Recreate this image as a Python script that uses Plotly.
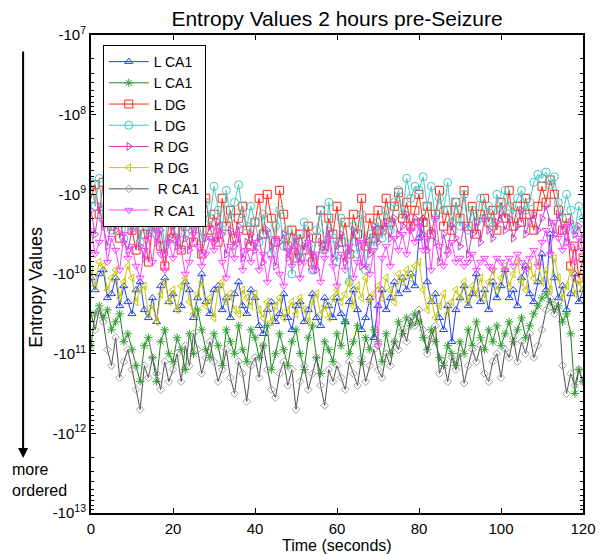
import math
import plotly.graph_objects as go

# time axis (seconds)
time_s = list(range(0, 121))

# log10 of |entropy value| for each series (entropy value = -10**exponent)
l_ca1_blue = [10.05, 10.20, 10.00, 9.95, 10.30, 10.25, 10.05, 10.40, 10.15, 10.35,
              10.50, 10.20, 10.10, 10.45, 10.55, 10.30, 10.60, 10.15, 10.05, 10.35,
              10.25, 10.45, 10.40, 10.10, 10.20, 10.55, 10.30, 10.00, 10.35, 10.50,
              10.20, 10.15, 10.45, 10.30, 10.55, 10.25, 10.10, 10.40, 10.50, 10.20,
              10.30, 10.65, 10.75, 10.45, 10.35, 10.60, 10.50, 10.25, 10.55, 10.70,
              10.40, 10.35, 10.60, 10.45, 10.25, 10.55, 10.65, 10.30, 10.40, 10.55,
              10.30, 10.50, 10.60, 10.35, 10.20, 10.45, 10.70, 10.55, 10.30, 10.80,
              10.40, 10.20, 10.45, 10.30, 10.10, 10.25, 10.05, 10.20, 10.00, 10.15,
              9.55, 9.30, 10.10, 10.35, 10.25, 10.55, 10.70, 10.40, 10.85, 10.45,
              10.30, 10.15, 10.40, 10.25, 10.00, 10.35, 10.20, 10.45, 10.10, 10.30,
              10.15, 9.95, 10.30, 10.20, 10.40, 10.05, 9.90, 10.25, 10.35, 10.10,
              9.75, 10.20, 9.50, 10.05, 10.30, 10.15, 10.45, 10.25, 10.00, 10.35,
              10.20]
l_ca1_green = [10.90, 10.50, 10.40, 10.55, 10.45, 10.70, 10.60, 10.50, 10.85, 10.75,
               10.95, 11.15, 11.35, 10.90, 10.80, 11.05, 11.35, 10.85, 10.70, 11.00,
               11.10, 10.80, 10.95, 11.20, 10.75, 11.00, 10.45, 10.70, 10.95, 11.05,
               10.75, 10.90, 11.15, 10.70, 10.85, 11.00, 10.65, 10.95, 11.10, 10.70,
               10.80, 11.05, 10.90, 10.65, 11.20, 11.00, 10.75, 10.95, 11.15, 10.85,
               10.70, 11.00, 11.20, 10.80, 10.65, 11.05, 11.25, 10.85, 10.95, 11.10,
               10.75, 10.90, 10.60, 11.00, 10.85, 10.65, 11.10, 10.80, 10.95, 10.70,
               10.85, 11.10, 10.75, 11.00, 10.85, 10.60, 10.75, 10.55, 10.65, 10.50,
               10.60, 10.80, 10.95, 10.70, 10.85, 11.05, 11.15, 10.90, 11.00, 11.15,
               10.85, 11.00, 10.70, 10.90, 10.60, 10.80, 10.95, 10.70, 10.85, 10.65,
               10.90, 10.75, 10.60, 10.85, 10.70, 10.55, 10.80, 10.65, 10.50, 10.40,
               10.30, 10.25, 10.35, 10.45, 10.40, 10.60, 10.50, 10.75, 11.50, 11.20,
               11.35]
l_dg_red = [9.05, 8.88, 9.25, 8.85, 9.15, 9.40, 9.05, 9.55, 9.30, 9.10,
            9.45, 9.70, 9.25, 9.50, 9.85, 9.40, 9.20, 9.65, 9.90, 9.35,
            9.55, 9.25, 9.70, 9.40, 9.15, 9.60, 9.35, 9.75, 9.05, 9.45,
            9.25, 9.60, 9.05, 9.40, 9.20, 9.55, 9.30, 9.15, 9.45, 9.65,
            9.35, 9.05, 9.50, 9.00, 9.30, 9.60, 8.95, 9.25, 9.65, 9.45,
            9.80, 9.50, 9.70, 9.40, 9.85, 9.55, 9.20, 9.65, 9.30, 9.50,
            9.15, 9.60, 9.35, 9.75, 9.25, 9.50, 9.05, 9.65, 9.30, 9.55,
            9.20, 9.45, 9.05, 9.35, 9.15, 8.98, 9.30, 9.10, 9.40, 9.20,
            9.00, 9.35, 9.15, 9.50, 9.25, 8.95, 9.40, 9.20, 9.45, 9.10,
            9.30, 8.95, 9.40, 9.15, 9.50, 9.25, 9.05, 9.35, 9.20, 9.45,
            9.10, 9.30, 8.95, 9.40, 9.15, 9.35, 9.05, 9.25, 9.45, 9.15,
            8.90, 9.10, 8.82, 9.00, 9.20, 9.45, 9.30, 9.90, 9.65, 10.05,
            9.80]
l_dg_cyan = [8.85, 9.15, 8.80, 9.30, 9.00, 9.45, 9.10, 9.35, 9.55, 9.20,
             9.40, 9.10, 9.60, 9.25, 9.45, 9.05, 9.50, 9.30, 9.65, 9.15,
             9.35, 9.60, 9.20, 9.50, 9.05, 9.40, 9.25, 9.55, 9.10, 9.30,
             8.90, 9.20, 9.45, 8.95, 9.30, 9.10, 8.88, 9.25, 9.40, 9.15,
             9.35, 9.60, 9.25, 9.50, 9.75, 9.40, 9.20, 9.65, 9.45, 10.00,
             9.55, 9.80, 9.35, 9.65, 9.95, 9.45, 9.20, 9.70, 9.10, 9.55,
             9.85, 9.30, 9.60, 10.10, 9.40, 9.75, 9.25, 9.95, 9.50, 9.65,
             9.35, 9.55, 9.20, 9.45, 9.10, 8.95, 9.25, 8.80, 9.05, 8.90,
             8.95, 8.78, 9.15, 8.90, 9.30, 9.05, 9.20, 8.85, 9.35, 9.10,
             9.40, 9.00, 9.45, 9.20, 9.35, 9.05, 9.30, 9.15, 9.40, 9.00,
             9.20, 8.95, 9.15, 9.25, 9.05, 8.95, 9.20, 9.10, 8.85, 8.75,
             8.80, 8.72, 8.88, 8.78, 9.10, 9.30, 9.00, 9.20, 9.45, 9.15,
             9.30]
r_dg_purple = [9.20, 9.50, 9.15, 9.40, 9.65, 9.30, 9.45, 9.25, 9.60, 9.70,
               9.45, 9.35, 9.65, 9.80, 9.50, 9.30, 9.60, 9.45, 9.75, 9.55,
               9.40, 9.65, 9.30, 9.55, 9.70, 9.45, 9.35, 9.75, 9.55, 9.40,
               9.60, 9.35, 9.50, 9.75, 9.45, 9.65, 9.40, 9.80, 9.60, 9.50,
               9.70, 9.55, 9.85, 9.45, 9.65, 9.90, 9.60, 9.50, 9.80, 9.70,
               9.55, 9.85, 9.65, 9.50, 9.75, 9.95, 9.60, 9.70, 9.45, 9.80,
               9.65, 9.50, 9.85, 9.70, 9.45, 9.60, 9.90, 9.55, 9.75, 9.40,
               9.60, 9.45, 9.35, 9.55, 9.30, 9.50, 9.40, 9.25, 9.45, 9.30,
               9.35, 9.50, 9.70, 9.45, 9.60, 9.85, 9.50, 9.70, 9.40, 9.55,
               9.65, 9.40, 9.75, 9.50, 9.35, 9.60, 9.30, 9.45, 9.55, 9.35,
               9.25, 9.45, 9.30, 9.55, 9.40, 9.20, 9.50, 9.35, 9.25, 9.45,
               9.30, 9.15, 9.35, 9.50, 9.25, 9.45, 9.60, 9.35, 9.50, 9.40,
               9.55]
r_dg_yellow = [9.95, 10.15, 9.85, 9.90, 10.20, 10.05, 9.95, 10.30, 10.10, 9.90,
               10.05, 10.35, 10.20, 10.15, 10.50, 10.40, 10.60, 10.25, 10.10, 10.35,
               10.20, 10.45, 10.15, 10.05, 10.35, 10.50, 10.25, 10.10, 10.40, 10.30,
               10.55, 10.20, 10.10, 10.35, 10.25, 10.45, 10.50, 10.20, 10.30, 10.40,
               10.25, 10.45, 10.55, 10.35, 10.60, 10.40, 10.30, 10.55, 10.45, 10.35,
               10.50, 10.30, 10.45, 10.60, 10.35, 10.25, 10.50, 10.40, 10.55, 10.30,
               10.20, 10.35, 10.25, 10.10, 10.40, 10.15, 10.30, 10.05, 10.35, 10.25,
               10.15, 10.30, 10.05, 10.20, 10.35, 10.00, 10.10, 9.95, 10.05, 9.90,
               9.85, 10.20, 10.45, 10.30, 10.55, 10.40, 10.25, 10.50, 10.35, 10.20,
               10.30, 10.10, 10.35, 10.15, 10.25, 10.05, 10.30, 10.10, 9.95, 10.20,
               10.05, 9.90, 10.15, 10.00, 9.85, 10.10, 10.20, 9.90, 10.05, 9.85,
               10.10, 9.95, 10.20, 9.80, 10.05, 10.30, 10.15, 9.95, 10.25, 10.10,
               10.20]
r_ca1_gray = [10.50, 10.70, 10.45, 10.60, 10.95, 11.15, 10.80, 11.30, 11.10, 10.95,
              11.20, 11.45, 11.70, 11.15, 11.30, 11.05, 11.25, 11.45, 11.10, 11.35,
              11.20, 11.00, 11.35, 10.90, 11.15, 10.75, 10.95, 11.25, 11.05, 10.85,
              11.10, 11.35, 11.20, 10.95, 11.30, 11.50, 11.10, 11.25, 11.60, 11.15,
              11.05, 11.30, 10.90, 11.20, 11.45, 11.55, 11.25, 11.10, 11.40, 11.20,
              11.70, 11.35, 11.15, 11.45, 11.25, 11.05, 11.40, 11.65, 11.20, 11.35,
              11.15, 11.30, 11.45, 11.10, 11.25, 11.40, 11.05, 11.35, 11.15, 10.95,
              11.20, 11.30, 11.00, 11.15, 10.85, 10.95, 10.70, 10.85, 10.55, 10.65,
              10.45, 10.70, 11.00, 10.80, 10.65, 11.25, 11.10, 11.35, 11.05, 11.20,
              11.00, 11.37, 11.15, 10.95, 11.10, 10.90, 11.25, 11.35, 11.10, 11.00,
              11.30, 10.95, 11.05, 10.80, 11.10, 10.85, 11.00, 10.75, 11.05, 10.90,
              10.70, 10.45, 10.30, 10.50, 10.35, 11.15, 11.50, 11.25, 11.40, 11.20,
              11.35]
r_ca1_pink = [9.45, 9.75, 9.60, 9.35, 9.85, 9.55, 9.70, 9.95, 9.50, 9.80,
              9.65, 9.90, 10.05, 9.70, 9.55, 9.85, 9.45, 9.75, 9.95, 9.60,
              9.80, 9.55, 9.70, 10.00, 9.85, 9.50, 9.65, 9.90, 9.75, 9.55,
              9.70, 9.45, 9.85, 10.05, 9.65, 9.80, 9.50, 9.95, 9.70, 9.85,
              9.60, 9.95, 9.75, 10.10, 9.80, 9.55, 10.00, 10.15, 9.70, 9.90,
              9.65, 10.05, 9.85, 9.60, 9.95, 9.75, 10.10, 9.80, 9.55, 9.90,
              10.15, 9.75, 9.95, 9.65, 10.05, 9.85, 9.60, 9.90, 10.00, 9.70,
              10.90, 9.80, 9.65, 9.90, 9.55, 9.70, 9.50, 9.75, 9.45, 9.60,
              9.40, 9.70, 9.55, 9.95, 9.30, 9.65, 9.90, 9.75, 9.60, 9.85,
              9.80, 9.90, 9.85, 9.75, 9.95, 9.85, 9.80, 9.90, 9.95, 9.80,
              9.85, 9.95, 9.80, 9.90, 9.75, 9.85, 9.95, 9.80, 9.70, 9.90,
              9.60, 9.45, 9.75, 9.35, 9.55, 9.70, 9.40, 9.65, 9.85, 9.55,
              9.70]

series_names = ["L CA1", "L CA1", "L DG", "L DG", "R DG", "R DG", " R CA1", "R CA1"]
series_data = [l_ca1_blue, l_ca1_green, l_dg_red, l_dg_cyan,
               r_dg_purple, r_dg_yellow, r_ca1_gray, r_ca1_pink]
line_colors = ["#2040ff", "#208020", "#ff2a10", "#40c8c8",
               "#c83cc8", "#c8c800", "#505050", "#ff40ff"]
marker_colors = ["#2040ff", "#30a030", "#ff2a10", "#40c8c8",
                 "#c83cc8", "#c8c800", "#a0a0a0", "#ff40ff"]
symbols = ["triangle-up-open", "asterisk-open", "square-open", "circle-open",
           "triangle-right-open", "triangle-left-open", "diamond-open", "triangle-down-open"]
sizes = [7, 7, 8, 8, 7, 7, 6, 7]

# y axis: decades of -10^k, drawn on a log-magnitude scale (top = -10^7)
decades = list(range(7, 14))
decade_labels = ["-10<sup>%d</sup>" % k for k in decades]
minor_ticks = [k + math.log10(m) for k in decades[:-1] for m in range(2, 10)]
x_ticks = [0, 20, 40, 60, 80, 100, 120]

fig = go.Figure()
for name, exps, lc, mc, sym, sz in zip(series_names, series_data, line_colors,
                                        marker_colors, symbols, sizes):
    fig.add_trace(go.Scatter(
        x=time_s, y=exps, name=name, mode="lines+markers",
        line=dict(color=lc, width=1),
        marker=dict(symbol=sym, size=sz, color=mc, line=dict(color=mc, width=1)),
    ))

font_family = "Liberation Sans, Arial, sans-serif"
fig.update_layout(
    width=606, height=554,
    margin=dict(l=91, r=23, t=35, b=41, autoexpand=False),
    paper_bgcolor="white", plot_bgcolor="white",
    font=dict(family=font_family, size=15, color="black"),
    title=dict(text="Entropy Values 2 hours pre-Seizure", x=0.5, xanchor="center",
               xref="paper", yref="container", y=0.967, yanchor="middle",
               font=dict(size=21, color="black")),
    showlegend=True,
    legend=dict(x=0.024, y=0.979, xanchor="left", yanchor="top",
                bgcolor="white", bordercolor="black", borderwidth=1,
                font=dict(size=14, color="black"), itemwidth=40,
                tracegroupgap=0),
)
fig.update_xaxes(
    range=[0, 120], tickmode="array", tickvals=x_ticks,
    ticks="inside", ticklen=5, tickcolor="black", tickwidth=1,
    ticklabelstandoff=1, automargin=False,
    showline=True, linecolor="black", linewidth=2, mirror="ticks",
    showgrid=False, zeroline=False,
    tickfont=dict(size=15),
)
fig.update_yaxes(
    range=[13, 7], tickmode="array", tickvals=decades, ticktext=decade_labels,
    ticks="inside", ticklen=5, tickcolor="black", tickwidth=1, automargin=False,
    minor=dict(tickmode="array", tickvals=minor_ticks, ticks="inside",
               ticklen=3, tickcolor="black", tickwidth=1, showgrid=False),
    showline=True, linecolor="black", linewidth=2, mirror="ticks",
    showgrid=False, zeroline=False,
    tickfont=dict(size=15),
)

# axis titles and the "more ordered" arrow
fig.add_annotation(text="Time (seconds)", xref="paper", yref="paper",
                   x=0.5, y=-0.067, showarrow=False,
                   xanchor="center", yanchor="middle",
                   font=dict(size=16, color="black"))
fig.add_annotation(text="Entropy Values", xref="paper", yref="paper",
                   x=-0.112, y=0.473, textangle=-90, showarrow=False,
                   xanchor="center", yanchor="middle",
                   font=dict(size=18, color="black"))
fig.add_annotation(text="", xref="paper", yref="paper",
                   x=-0.138, y=0.115, ax=0, ay=-408, showarrow=True,
                   arrowhead=2, arrowsize=1, arrowwidth=2, arrowcolor="black")
fig.add_annotation(text="more<br>ordered", xref="paper", yref="paper",
                   x=-0.165, y=0.069, showarrow=False, align="left",
                   xanchor="left", yanchor="middle",
                   font=dict(size=16, color="black"))

fig.write_html("out.html", config={"displayModeBar": False},
               post_script="document.body.style.margin='0';")
